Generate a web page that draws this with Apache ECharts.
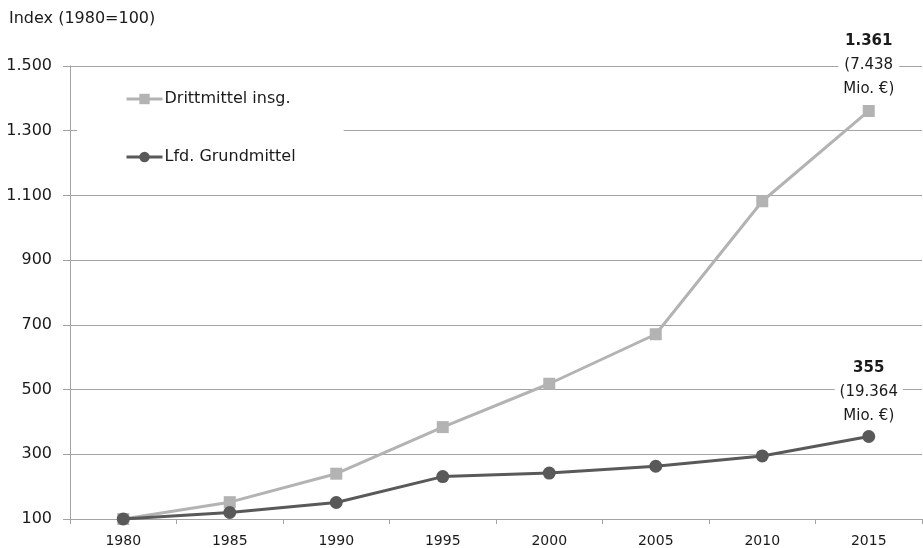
<!DOCTYPE html>
<html>
<head>
<meta charset="utf-8">
<script src="https://cdn.jsdelivr.net/npm/echarts@6/dist/echarts.min.js"></script>
<style>
  html, body { margin: 0; padding: 0; background: #fff; }
  #chart { width: 923px; height: 548px; }
</style>
</head>
<body>
<div id="chart"></div>
<script>
// Jahre auf der x-Achse
var years = ['1980', '1985', '1990', '1995', '2000', '2005', '2010', '2015'];
// Index-Werte (1980=100)
var drittmittel = [100, 152, 240, 384, 518, 671, 1082, 1361];
var grundmittel = [100, 120, 151, 231, 242, 263, 295, 355];
// Beschriftung am letzten Punkt
var drittNote = '(7.438\nMio. €)';
var grundNote = '(19.364\nMio. €)';
// y-Achsen-Teilstriche
var yTicks = [100, 300, 500, 700, 900, 1100, 1300, 1500];

var FONT = 'DejaVu Sans';
var GRID = '#a3a3a3';

function fmt(v) {
    return String(v).replace(/\B(?=(\d{3})+(?!\d))/g, '.');
}

function withEndLabel(values, note, dist) {
    return values.map(function (v, i) {
        if (i !== values.length - 1) return v;
        return {
            value: v,
            label: {
                show: true,
                position: 'top',
                distance: dist,
                align: 'center',
                fontFamily: FONT,
                fontSize: 15,
                lineHeight: 24,
                color: '#1a1a1a',
                backgroundColor: '#fff',
                padding: [0, 5, 0, 5],
                formatter: function (p) {
                    return '{b|' + fmt(p.value) + '}\n' + note;
                },
                rich: {
                    b: {fontFamily: FONT, fontSize: 15, fontWeight: 'bold', lineHeight: 24, color: '#1a1a1a'}
                }
            }
        };
    });
}

var myChart = echarts.init(document.getElementById('chart'), null, {renderer: 'canvas'});
var option = {
    animation: false,
    backgroundColor: '#fff',
    textStyle: {fontFamily: FONT},
    title: {
        text: 'Index (1980=100)',
        left: 4,
        top: 6,
        textStyle: {fontFamily: FONT, fontSize: 16, fontWeight: 'normal', color: '#1a1a1a'}
    },
    legend: {
        orient: 'vertical',
        left: 77,
        top: 79,
        padding: [12, 48, 12, 48],
        backgroundColor: '#fff',
        itemWidth: 36,
        itemHeight: 13,
        itemGap: 42,
        selectedMode: false,
        lineStyle: {width: 3},
        textStyle: {fontFamily: FONT, fontSize: 16, color: '#1a1a1a', padding: [0, 0, 0, -3]},
        data: ['Drittmittel insg.', 'Lfd. Grundmittel']
    },
    grid: {left: 70, right: 1, top: 66, bottom: 29},
    xAxis: {
        type: 'category',
        data: years,
        boundaryGap: true,
        axisLine: {lineStyle: {color: GRID, width: 1}},
        axisTick: {show: true, length: 5, lineStyle: {color: GRID}},
        axisLabel: {fontFamily: FONT, fontSize: 14, color: '#1a1a1a', margin: 15}
    },
    yAxis: {
        type: 'value',
        min: 100,
        max: 1500,
        axisLine: {show: true, lineStyle: {color: GRID, width: 1}},
        axisTick: {show: true, length: 7, customValues: yTicks, lineStyle: {color: GRID}},
        axisLabel: {
            customValues: yTicks,
            fontFamily: FONT,
            fontSize: 16,
            color: '#1a1a1a',
            margin: 18,
            formatter: function (v) { return fmt(v); }
        },
        splitLine: {show: true, lineStyle: {color: GRID, width: 1}}
    },
    series: [
        {
            name: 'Drittmittel insg.',
            type: 'line',
            data: withEndLabel(drittmittel, drittNote, 4),
            symbol: 'rect',
            symbolSize: 12,
            lineStyle: {color: '#b3b3b3', width: 3},
            itemStyle: {color: '#b3b3b3'},
            z: 3
        },
        {
            name: 'Lfd. Grundmittel',
            type: 'line',
            data: withEndLabel(grundmittel, grundNote, 2),
            symbol: 'circle',
            symbolSize: 13,
            lineStyle: {color: '#595959', width: 3},
            itemStyle: {color: '#595959'},
            z: 4
        }
    ]
};
option && myChart.setOption(option);
</script>
</body>
</html>
